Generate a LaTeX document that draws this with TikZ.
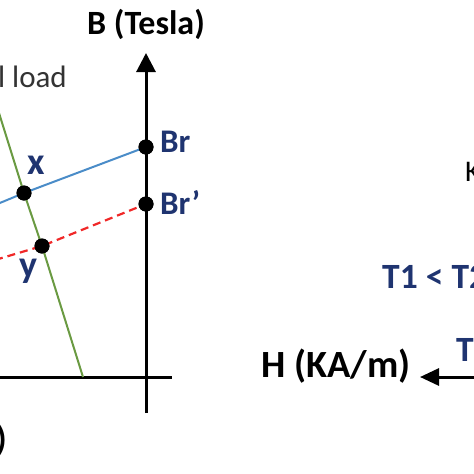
\documentclass[tikz,border=0pt]{standalone}
\usepackage{fontspec}
\setmainfont{Carlito}
\usetikzlibrary{arrows.meta}
\definecolor{navy}{HTML}{1F3470}
\definecolor{lineblue}{HTML}{4A8CC8}
\definecolor{linered}{HTML}{F02828}
\definecolor{linegreen}{HTML}{6A9A42}
\definecolor{txtgray}{HTML}{333333}
\tikzset{
  axis/.style={line width=3pt, black},
  dot/.style={circle, fill=black, inner sep=0pt, minimum size=15pt},
  lbl/.style={text=navy, font=\bfseries\fontsize{33}{35}\selectfont, inner sep=0pt},
  ptlbl/.style={text=navy, font=\bfseries\fontsize{38}{40}\selectfont, inner sep=0pt},
  axlbl/.style={text=black, font=\bfseries\fontsize{34}{36}\selectfont, inner sep=0pt},
  bigaxlbl/.style={text=black, font=\bfseries\fontsize{38.5}{40}\selectfont, inner sep=0pt},
  biglbl/.style={text=navy, font=\bfseries\fontsize{35.5}{38}\selectfont, inner sep=0pt},
}
\begin{document}
\begin{tikzpicture}[x=1pt,y=-1pt]
\useasboundingbox (0,0) rectangle (474,474);
% axes
\coordinate (vbot) at (146,413);
\coordinate (vtop) at (146,53);
\coordinate (hleft) at (0,377);
\coordinate (hright) at (172,377);
\draw[axis] (hleft) -- (hright);
\draw[axis, -{Triangle[length=19pt,width=19pt]}] (vbot) -- (vtop);
% points
\node[dot] (br) at (146,147) {};
\node[dot] (brp) at (146,204) {};
\node[dot] (x) at (24,193) {};
\node[dot] (y) at (42,246) {};
\coordinate (gtop) at (-1,113);
\coordinate (gbot) at (83,377);
\coordinate (bleft) at (-5,205);
\coordinate (rleft) at (-5,260);
\draw[linegreen, line width=2pt] (gtop) -- (x.center) -- (y.center) -- (gbot);
\draw[lineblue, line width=2pt] (bleft) -- (x.center) -- (br.center);
\draw[linered, line width=2.2pt, dash pattern=on 8pt off 5pt] (rleft) -- (y.center) -- (brp.center);
\node[dot] at (br) {};
\node[dot] at (brp) {};
\node[dot] at (x) {};
\node[dot] at (y) {};
% labels
\node[lbl, anchor=west] (brl) at (160,142) {Br};
\node[lbl, anchor=west] (brpl) at (160,202) {Br’};
\node[ptlbl] (xl) at (36,165) {x};
\node[ptlbl] (yl) at (28,271) {y};
\node[axlbl] (bt) at (146,24) {B (Tesla)};
\node[text=txtgray, font=\fontsize{31}{33}\selectfont, inner sep=0pt, anchor=base east] (load) at (67,87) {l load};
\node[axlbl, anchor=west] (paren) at (-4,440) {)};
% right part
\node[bigaxlbl, anchor=east] (hl) at (411,366) {H (KA/m)};
\coordinate (hr) at (480,377);
\coordinate (htip) at (420,377);
\draw[axis, -{Triangle[length=19pt,width=17pt]}] (hr) -- (htip);
\node[biglbl, anchor=west] (t12) at (382,277) {T1 < T2};
\node[biglbl, anchor=west] (tt) at (456,350) {T};
\node[text=black, font=\fontsize{30}{32}\selectfont, inner sep=0pt, anchor=west] (kk) at (465,172) {K};
\end{tikzpicture}
\end{document}
